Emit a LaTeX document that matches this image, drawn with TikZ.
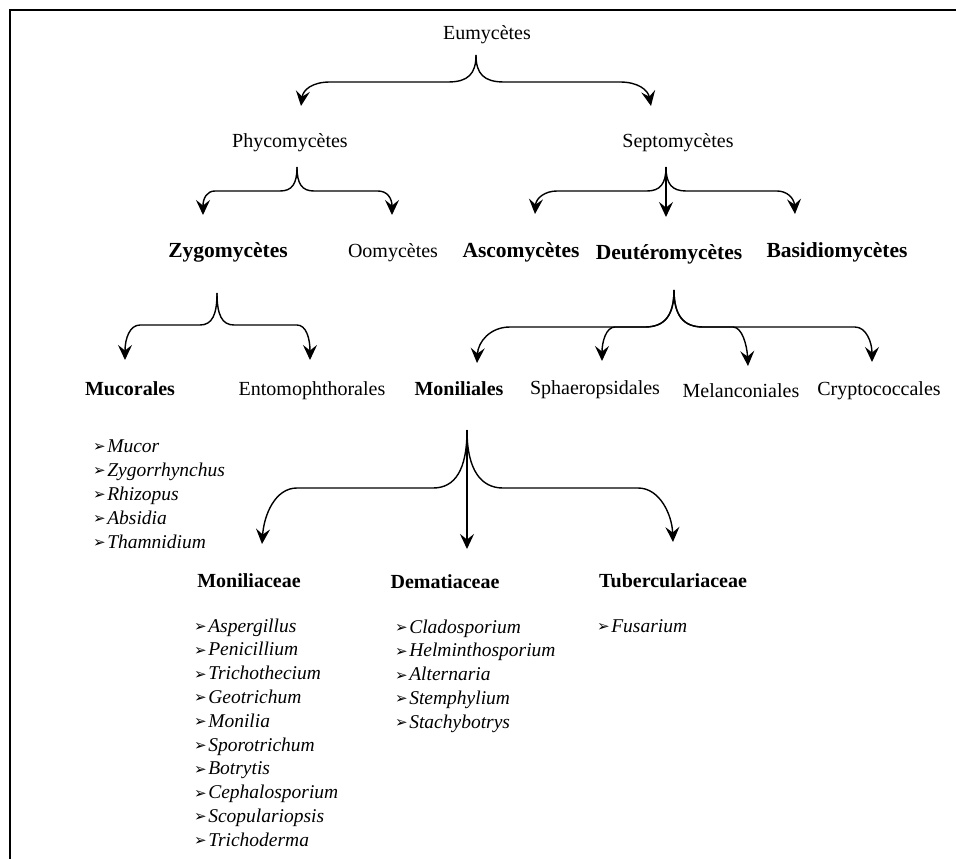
\documentclass[tikz,border=0pt]{standalone}
\usepackage{fontspec}
\setmainfont{Liberation Serif}
\newfontfamily\dejavu{DejaVu Sans}
\usetikzlibrary{arrows.meta}
\newcommand\bul{\raisebox{0.5pt}{\dejavu\fontsize{15}{15}\selectfont ➢}\hspace{1.5pt}}
\begin{document}
\begin{tikzpicture}[x=1pt,y=-1pt,
  lbl/.style={anchor=base, inner sep=0pt, font=\fontsize{20}{24}\selectfont},
  lblb/.style={anchor=base, inner sep=0pt, font=\fontsize{20}{24}\selectfont\bfseries},
  lblB/.style={anchor=base, inner sep=0pt, font=\fontsize{21.5}{24}\selectfont\bfseries},
  item/.style={anchor=base west, inner sep=0pt, font=\fontsize{19.5}{24}\selectfont\itshape},
  con/.style={line width=1.4pt, -{Stealth[length=15pt,width=14pt,inset=5.5pt]}}]
\useasboundingbox (0,0) rectangle (956,859);
\draw[line width=2.5pt] (10,859) -- (10,10) -- (956,10);

% labels
\node[lbl] (eumy) at (487,40) {Eumycètes};
\node[lbl] (phyco) at (290,147) {Phycomycètes};
\node[lbl] (septo) at (678,147) {Septomycètes};
\node[lblB] (zygo) at (228,257) {Zygomycètes};
\node[lbl] (oomy) at (393,257) {Oomycètes};
\node[lblB] (asco) at (521,257) {Ascomycètes};
\node[lblB] (deut) at (669,259) {Deutéromycètes};
\node[lblB] (basi) at (837,257) {Basidiomycètes};
\node[lblb] (muco) at (130,395) {Mucorales};
\node[lbl] (ento) at (312,395) {Entomophthorales};
\node[lblb] (moni) at (459,395) {Moniliales};
\node[lbl] (spha) at (595,394) {Sphaeropsidales};
\node[lbl] (mela) at (741,397) {Melanconiales};
\node[lbl] (cryp) at (879,395) {Cryptococcales};
\node[lblb] (monc) at (249,587) {Moniliaceae};
\node[lblb] (dema) at (445,588) {Dematiaceae};
\node[lblb] (tube) at (673,587) {Tuberculariaceae};

% lists
\foreach \t [count=\i] in {Mucor,Zygorrhynchus,Rhizopus,Absidia,Thamnidium}
  \node[item] (mu\i) at (93,{452+24*(\i-1)}) {\bul\t};
\foreach \t [count=\i] in {Aspergillus,Penicillium,Trichothecium,Geotrichum,Monilia,Sporotrichum,Botrytis,Cephalosporium,Scopulariopsis,Trichoderma}
  \node[item] (mc\i) at (194,{632+23.8*(\i-1)}) {\bul\t};
\foreach \t [count=\i] in {Cladosporium,Helminthosporium,Alternaria,Stemphylium,Stachybotrys}
  \node[item] (de\i) at (395,{633+23.8*(\i-1)}) {\bul\t};
\node[item] (fu1) at (597,632) {\bul Fusarium};

% brace 1
\coordinate (a1) at (476,55);
\draw[con] (a1) .. controls (476,74) and (468,82) .. (448,82) -- (330,82) .. controls (312,82) and (303,90) .. (301,106);
\draw[con] (a1) .. controls (476,74) and (484,82) .. (504,82) -- (620,82) .. controls (638,82) and (648,90) .. (651,106);
% brace 2
\coordinate (a2) at (297,167);
\draw[con] (a2) .. controls (297,184) and (292,191) .. (280,191) -- (215,191) .. controls (207,191) and (203,198) .. (203,215);
\draw[con] (a2) .. controls (297,184) and (302,191) .. (314,191) -- (378,191) .. controls (387,191) and (392,198) .. (392,215);
% brace 3
\coordinate (a3) at (666,167);
\draw[con] (a3) .. controls (666,184) and (660,191) .. (647,191) -- (557,191) .. controls (545,191) and (536,198) .. (535,214);
\draw[con] (a3) -- (666,217);
\draw[con] (a3) .. controls (666,184) and (672,191) .. (686,191) -- (777,191) .. controls (787,191) and (794,198) .. (795,214);
% brace 4
\coordinate (a4) at (217,293);
\draw[con] (a4) .. controls (217,315) and (212,325) .. (200,325) -- (140,325) .. controls (130,325) and (125,338) .. (125,360);
\draw[con] (a4) .. controls (217,315) and (222,325) .. (234,325) -- (297,325) .. controls (306,325) and (310,338) .. (310,360);
% brace 5
\coordinate (a5) at (674,290);
\draw[con] (a5) .. controls (674,315) and (665,327) .. (645,327) -- (510,327) .. controls (490,327) and (478,342) .. (477,363);
\draw[con] (a5) .. controls (674,315) and (665,327) .. (645,327) -- (615,327) .. controls (606,327) and (602,342) .. (602,361);
\draw[con] (a5) .. controls (674,315) and (683,327) .. (703,327) -- (733,327) .. controls (742,327) and (747,345) .. (748,366);
\draw[con] (a5) .. controls (674,315) and (683,327) .. (703,327) -- (855,327) .. controls (866,327) and (872,342) .. (872,362);
% brace 6
\coordinate (a6) at (467,430);
\draw[con] (a6) .. controls (467,470) and (455,488) .. (433,488) -- (297,488) .. controls (275,488) and (264,515) .. (262,544);
\draw[con] (a6) -- (467,549);
\draw[con] (a6) .. controls (467,470) and (481,488) .. (503,488) -- (638,488) .. controls (660,488) and (672,515) .. (673,542);
\end{tikzpicture}
\end{document}
